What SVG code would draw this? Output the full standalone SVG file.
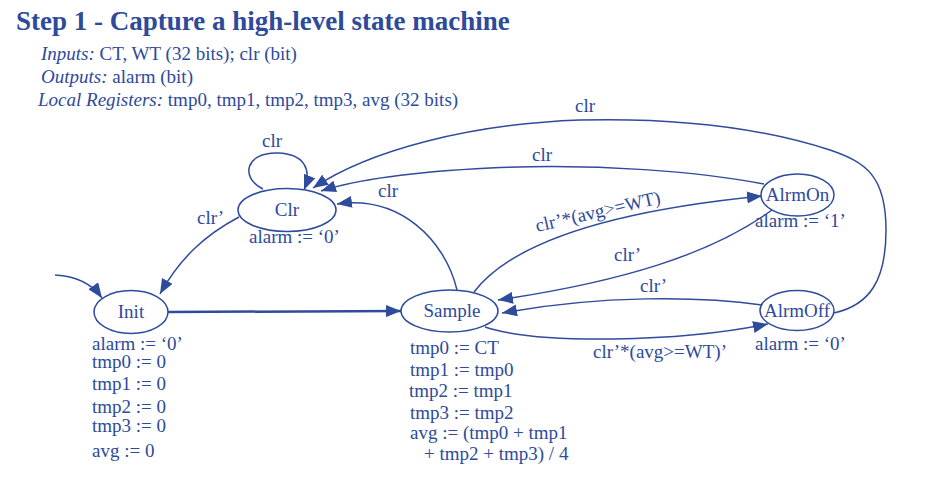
<svg xmlns="http://www.w3.org/2000/svg" width="947" height="483" viewBox="0 0 947 483">
<style>
text{font-family:"Liberation Serif","Times New Roman",serif;fill:#2d4a9b;font-size:19px}
.title{font-size:27px;font-weight:bold}
.it{font-style:italic}
.node ellipse{fill:#fff;stroke:#2e4b9c;stroke-width:1.5}
.node .lbl{text-anchor:middle}
.edges path{fill:none;stroke:#2e4b9c;stroke-width:1.5}
</style>
<defs>
<marker id="ah" viewBox="0 0 15 12" refX="15" refY="6" markerWidth="15" markerHeight="12" orient="auto" markerUnits="userSpaceOnUse">
<path d="M0,0 L15,6 L0,12 z" fill="#2e4b9c"/>
</marker>
</defs>
<rect width="947" height="483" fill="#fff"/>
<text class="title" x="16" y="30">Step 1 - Capture a high-level state machine</text>
<text x="41" y="60"><tspan class="it">Inputs:</tspan> CT, WT (32 bits); clr (bit)</text>
<text x="41" y="83"><tspan class="it">Outputs:</tspan> alarm (bit)</text>
<text x="38" y="106"><tspan class="it">Local Registers:</tspan> tmp0, tmp1, tmp2, tmp3, avg (32 bits)</text>

<g class="edges">
<path d="M55 275 C75 276 92 284 102 298" marker-end="url(#ah)"/>
<path d="M239 217 C205 235 180 258 160 294" marker-end="url(#ah)"/>
<path d="M168 312 L401 311" style="stroke-width:2.5" marker-end="url(#ah)"/>
<path d="M457 290 C445 240 400 195 337 204" marker-end="url(#ah)"/>
<path d="M263 189 C240 178 245 152 278 153 C305 154 312 170 304 190" marker-end="url(#ah)"/>
<path d="M834 313 C870 305 886 280 886 230 C886 175 865 162 830 150 C750 124 660 118 580 120 C470 124 370 150 313 188" marker-end="url(#ah)"/>
<path d="M764 184 C700 172 600 163 490 168 C410 172 355 180 321 191" marker-end="url(#ah)"/>
<path d="M474 292 C510 245 600 212 762 196" marker-end="url(#ah)"/>
<path d="M772 210 C710 255 620 282 498 300" marker-end="url(#ah)"/>
<path d="M762 305 C700 296 600 295 502 313" marker-end="url(#ah)"/>
<path d="M485 327 C540 345 680 342 768 324" marker-end="url(#ah)"/>
</g>

<g id="edge-labels">
<text x="262" y="147">clr</text>
<text x="575" y="112">clr</text>
<text x="532" y="161">clr</text>
<text x="378" y="197">clr</text>
<text x="197" y="224">clr’</text>
<text x="614" y="261">clr’</text>
<text x="640" y="292">clr’</text>
<text x="537" y="232" transform="rotate(-13 537 232)">clr’*(avg&gt;=WT)</text>
<text x="593" y="358">clr’*(avg&gt;=WT)’</text>
</g>

<g id="node-clr" class="node">
<ellipse cx="287" cy="210" rx="49" ry="21.5"/>
<text class="lbl" x="287" y="216">Clr</text>
<text x="249" y="243">alarm := ‘0’</text>
</g>
<g id="node-init" class="node">
<ellipse cx="131" cy="312" rx="37" ry="21.5"/>
<text class="lbl" x="131" y="318">Init</text>
<text x="92" y="350">alarm := ‘0’</text>
<text x="92" y="368">tmp0 := 0</text>
<text x="92" y="390">tmp1 := 0</text>
<text x="92" y="413">tmp2 := 0</text>
<text x="92" y="432">tmp3 := 0</text>
<text x="92" y="457">avg := 0</text>
</g>
<g id="node-sample" class="node">
<ellipse cx="449.5" cy="311" rx="48.5" ry="21"/>
<text class="lbl" x="452" y="317">Sample</text>
<text x="410" y="354">tmp0 := CT</text>
<text x="410" y="376">tmp1 := tmp0</text>
<text x="409" y="397">tmp2 := tmp1</text>
<text x="410" y="419">tmp3 := tmp2</text>
<text x="410" y="439">avg := (tmp0 + tmp1</text>
<text x="424" y="460">+ tmp2 + tmp3) / 4</text>
</g>
<g id="node-alrmon" class="node">
<ellipse cx="797.5" cy="195" rx="36.5" ry="21"/>
<text class="lbl" x="797.5" y="201">AlrmOn</text>
<text x="755" y="227">alarm := ‘1’</text>
</g>
<g id="node-alrmoff" class="node">
<ellipse cx="797" cy="310.5" rx="37" ry="20"/>
<text class="lbl" x="797" y="317">AlrmOff</text>
<text x="755" y="350">alarm := ‘0’</text>
</g>
</svg>
